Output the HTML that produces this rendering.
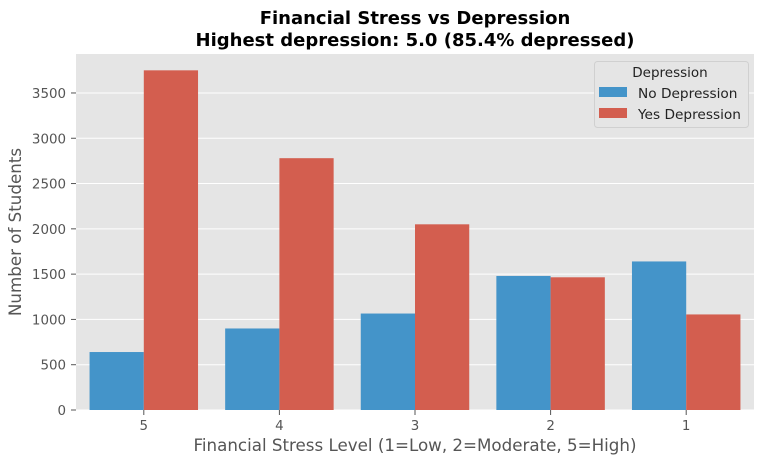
<!DOCTYPE html>
<html><head><meta charset="utf-8"><style>
body{margin:0;background:#fff;}
svg{display:block;font-family:"DejaVu Sans","Liberation Sans",sans-serif;}
</style></head><body>
<svg id="chart" width="764" height="464">
<rect x="0" y="0" width="764" height="464" fill="#fff"/>
<text x="415" y="24" text-anchor="middle" font-size="18" font-weight="bold">Financial Stress vs Depression</text>
<text x="415" y="46" text-anchor="middle" font-size="18" font-weight="bold">Highest depression: 5.0 (85.4% depressed)</text>
<rect x="76" y="54" width="678" height="356" fill="#e5e5e5"/>
<g id="grid"></g><g id="bars"></g><g id="axes"></g>
<text x="415" y="451" text-anchor="middle" font-size="16.7" fill="#555">Financial Stress Level (1=Low, 2=Moderate, 5=High)</text>
<text transform="translate(21,232) rotate(-90)" text-anchor="middle" font-size="16.7" fill="#555">Number of Students</text>
<g>
<rect x="594.5" y="61.5" width="154" height="66" fill="#e5e5e5" stroke="#d0d0d0" rx="3"/>
<text x="670" y="77" text-anchor="middle" font-size="13.5" fill="#222">Depression</text>
<rect x="599" y="87" width="28" height="10" fill="#4494c9"/>
<text x="638" y="98" font-size="13.7" fill="#222">No Depression</text>
<rect x="599" y="108" width="28" height="10" fill="#d35e4f"/>
<text x="638" y="119" font-size="13.7" fill="#222">Yes Depression</text>
</g>
</svg>
<script>
const categories = ["5","4","3","2","1"];
const noDepression = [640, 900, 1065, 1480, 1640];
const yesDepression = [3750, 2780, 2050, 1465, 1055];
const yTicks = [0,500,1000,1500,2000,2500,3000,3500];
const NS="http://www.w3.org/2000/svg";
const x0=76,x1=754,yb=410,pxPer500=45.29;
const yScale=v=>yb-v/500*pxPer500;
const band=(x1-x0)/categories.length;
const xCenter=i=>x0+band*(i+0.5);
const bw=band*0.4;
function mk(tag,attrs,parent){const e=document.createElementNS(NS,tag);for(const k in attrs)e.setAttribute(k,attrs[k]);parent.appendChild(e);return e;}
const grid=document.getElementById('grid'),bars=document.getElementById('bars'),axes=document.getElementById('axes');
yTicks.forEach(t=>{const y=yScale(t);
 const l=mk('line',{x1:x0,x2:x1,y1:y,y2:y,stroke:'#fff','stroke-width':1},grid);
 
 
 mk('line',{x1:x0-5,x2:x0,y1:y,y2:y,stroke:'#555'},axes);
 const tx=mk('text',{x:x0-10,y:y+5,'text-anchor':'end','font-size':13.4,fill:'#555'},axes);tx.textContent=t;
 
 
});
categories.forEach((c,i)=>{const cx=xCenter(i);
 const b1=mk('rect',{x:cx-bw,y:yScale(noDepression[i]),width:bw,height:yb-yScale(noDepression[i]),fill:'#4494c9'},bars);
 
 
 const b2=mk('rect',{x:cx,y:yScale(yesDepression[i]),width:bw,height:yb-yScale(yesDepression[i]),fill:'#d35e4f'},bars);
 
 
 mk('line',{x1:cx,x2:cx,y1:yb,y2:yb+5,stroke:'#555'},axes);
 const tx=mk('text',{x:cx,y:yb+20,'text-anchor':'middle','font-size':13.4,fill:'#555'},axes);tx.textContent=c;
 
 
});
</script>
</body></html>
